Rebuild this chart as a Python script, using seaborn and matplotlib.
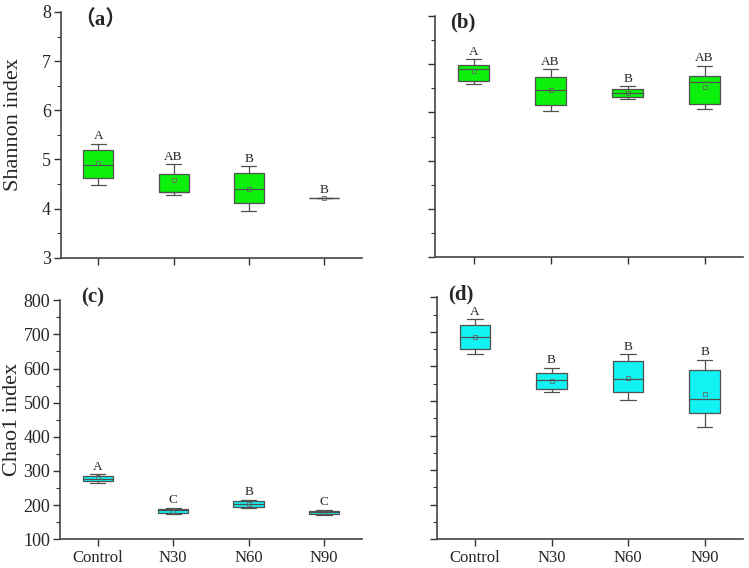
import numpy as np
import pandas as pd
import matplotlib
matplotlib.use("Agg")
import matplotlib.pyplot as plt
import seaborn as sns
from matplotlib.ticker import MultipleLocator

groups = ["Control", "N30", "N60", "N90"]

# five-number summaries: low whisker, Q1, median, Q3, high whisker
shannon_a = {"Control": [4.49, 4.63, 4.88, 5.20, 5.32],
             "N30": [4.27, 4.33, 4.34, 4.71, 4.90],
             "N60": [3.95, 4.11, 4.39, 4.72, 4.86],
             "N90": [4.22, 4.22, 4.22, 4.22, 4.22]}
shannon_a_mean = [4.92, 4.59, 4.41, 4.22]
shannon_a_letters = ["A", "AB", "B", "B"]

shannon_b = {"Control": [6.59, 6.66, 6.91, 6.98, 7.10],
             "N30": [6.02, 6.16, 6.46, 6.74, 6.89],
             "N60": [6.27, 6.31, 6.40, 6.49, 6.54],
             "N90": [6.08, 6.18, 6.64, 6.76, 6.97]}
shannon_b_mean = [6.86, 6.46, 6.40, 6.52]
shannon_b_letters = ["A", "AB", "B", "AB"]

chao_c = {"Control": [264, 270, 278, 286, 290],
          "N30": [173, 176, 186, 190, 193],
          "N60": [191, 194, 203, 212, 215],
          "N90": [171, 174, 179, 184, 187]}
chao_c_mean = [281, 184, 203, 179]
chao_c_letters = ["A", "C", "B", "C"]

chao_d = {"Control": [635, 651, 686, 719, 736],
          "N30": [525, 535, 561, 581, 595],
          "N60": [502, 525, 564, 615, 635],
          "N90": [424, 464, 505, 589, 619]}
chao_d_mean = [686, 559, 568, 520]
chao_d_letters = ["A", "B", "B", "B"]

sns.set_style("ticks")
plt.rcParams["font.family"] = ["Liberation Serif", "Noto Sans CJK SC"]

fig = plt.figure(figsize=(7.49, 5.68), dpi=100)
ax_a = fig.add_axes([0.081, 0.546, 0.402, 0.433])
ax_b = fig.add_axes([0.581, 0.547, 0.411, 0.425])
ax_c = fig.add_axes([0.080, 0.0505, 0.403, 0.421])
ax_d = fig.add_axes([0.583, 0.0505, 0.409, 0.426])

edge = "#505050"


def draw_panel(ax, stats, means, letters, color, ylim, major, minor, pad, label, lx, ly):
    df = pd.DataFrame([(g, v) for g in groups for v in stats[g]], columns=["group", "value"])
    sns.boxplot(data=df, x="group", y="value", order=groups, whis=(0, 100), width=0.4,
                color=color, saturation=1, linecolor=edge, linewidth=0.9, ax=ax)
    sns.pointplot(x=groups, y=means, order=groups, linestyle="none", marker="s",
                  markersize=2.5, markerfacecolor="none", markeredgewidth=0.6,
                  color="#666666", errorbar=None, ax=ax)
    for i, g in enumerate(groups):
        ax.text(i, stats[g][4] + pad, letters[i], ha="center", va="bottom", fontsize=9.5)
    ax.set_xlim(-0.5, 3.5)
    ax.set_ylim(*ylim)
    ax.yaxis.set_major_locator(MultipleLocator(major))
    ax.yaxis.set_minor_locator(MultipleLocator(minor))
    ax.tick_params(axis="both", which="major", direction="out", length=5, width=1, color="#333333")
    ax.tick_params(axis="y", which="minor", direction="out", length=3, width=0.8, color="#333333")
    ax.tick_params(axis="y", labelsize=13, pad=2)
    ax.tick_params(axis="x", labelsize=12, pad=3)
    ax.set_xlabel("")
    ax.set_ylabel("")
    sns.despine(ax=ax)
    for s in ["left", "bottom"]:
        ax.spines[s].set_color("#444444")
        ax.spines[s].set_linewidth(1.2)
    ax.text(lx, ly, label, transform=ax.transAxes, ha="left", va="center",
            fontsize=15, fontweight="bold")


draw_panel(ax_a, shannon_a, shannon_a_mean, shannon_a_letters, "#0cf00c", (3, 8), 1, 0.5, 0.03,
           "（a）", 0.045, 0.966)
draw_panel(ax_b, shannon_b, shannon_b_mean, shannon_b_letters, "#0cf00c", (3, 8), 1, 0.5, 0.03,
           "(b)", 0.049, 0.974)
draw_panel(ax_c, chao_c, chao_c_mean, chao_c_letters, "#12f2f2", (100, 800), 100, 50, 5,
           "(c)", 0.07, 1.01)
draw_panel(ax_d, chao_d, chao_d_mean, chao_d_letters, "#12f2f2", (100, 800), 100, 50, 5,
           "(d)", 0.036, 1.01)

ax_a.set_xticklabels([])
ax_b.set_xticklabels([])
ax_b.set_yticklabels([])
ax_d.set_yticklabels([])
ax_c.set_xticks(range(4))
ax_c.set_xticklabels(groups)
ax_d.set_xticks(range(4))
ax_d.set_xticklabels(groups)

ax_a.set_ylabel("Shannon index", fontsize=16)
ax_c.set_ylabel("Chao1 index", fontsize=16)
ax_a.yaxis.set_label_coords(-0.125, 0.54)
ax_c.yaxis.set_label_coords(-0.125, 0.5)

fig.savefig("out.png", dpi=100)
